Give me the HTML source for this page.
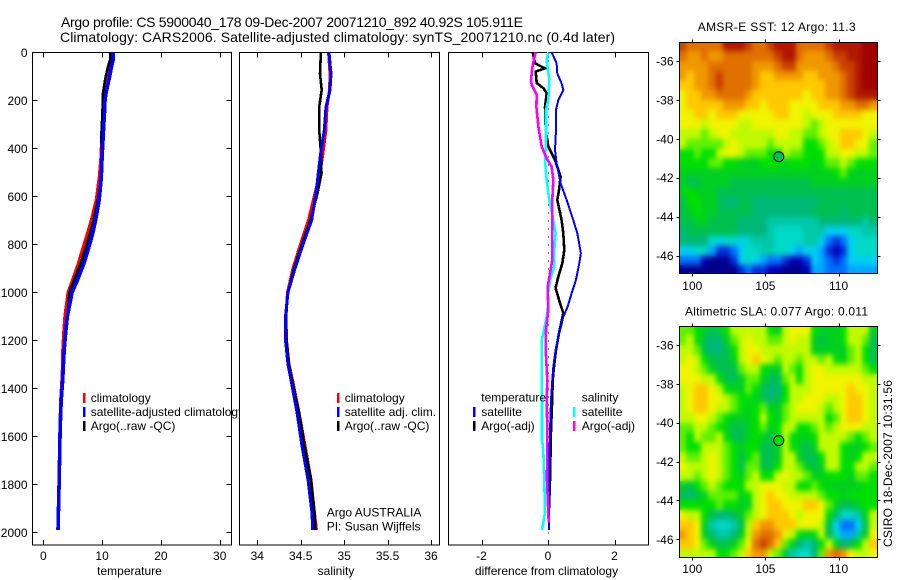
<!DOCTYPE html>
<html>
<head>
<meta charset="utf-8">
<title>Argo profile</title>
<style>
html,body{margin:0;padding:0;background:#fff;}
svg{display:block;}
text{font-family:"Liberation Sans",sans-serif;font-size:12px;fill:#000;}
.ttl{font-size:14px;}
</style>
</head>
<body>
<svg id="chart" xmlns="http://www.w3.org/2000/svg" width="900" height="580" viewBox="0 0 900 580">
  <defs>
    <filter id="soften" x="-5%" y="-5%" width="110%" height="110%" color-interpolation-filters="sRGB">
      <feGaussianBlur in="SourceGraphic" stdDeviation="2.3 2.9" result="soft"/>
      <feMerge><feMergeNode in="SourceGraphic"/><feMergeNode in="soft"/></feMerge>
    </filter>
  </defs>
  <rect x="0" y="0" width="900" height="580" fill="#fff"/>
  <text class="ttl" x="61" y="27" textLength="462" lengthAdjust="spacing">Argo profile: CS 5900040_178 09-Dec-2007 20071210_892 40.92S 105.911E</text>
  <text class="ttl" x="60" y="42" textLength="555" lengthAdjust="spacing">Climatology: CARS2006. Satellite-adjusted climatology: synTS_20071210.nc (0.4d later)</text>
  <g id="layer"></g>
  <text x="697.7" y="31" textLength="158" lengthAdjust="spacing">AMSR-E SST: 12 Argo: 11.3</text>
  <text x="685" y="315.5" textLength="183" lengthAdjust="spacing">Altimetric SLA: 0.077 Argo: 0.011</text>
  <text transform="translate(892,547) rotate(-90)" textLength="167" lengthAdjust="spacing">CSIRO 18-Dec-2007 10:31:56</text>
</svg>
<script>
// ---- profile data ----
const depthTicks = [0,200,400,600,800,1000,1200,1400,1600,1800,2000];
const tempTicks = [0,10,20,30];
const salTicks = [34,34.5,35,35.5,36];
const diffTicks = [-2,0,2];
const lonTicks = [100,105,110];
const latTicks = [-36,-38,-40,-42,-44,-46];

const tempDepths = [0,30,60,110,170,200,250,340,435,520,615,700,755,825,880,950,1000,1100,1170,1240,1310,1365,1450,1575,1780,1990];
const tempClim = [11.8,11.7,11.35,10.9,10.2,10.2,10.15,9.95,9.8,9.5,9.0,8.15,7.5,6.6,5.95,4.95,4.2,3.65,3.45,3.3,3.25,3.15,2.95,2.8,2.65,2.45];
const tempSat = [11.9,11.9,11.6,11.2,10.66,10.5,10.4,10.2,10,9.87,9.5,8.9,8.4,7.6,6.9,5.8,4.9,4.1,3.8,3.55,3.4,3.3,3.05,2.85,2.7,2.5];
const tempArgo = [11.35,11.4,11,10.55,10.15,10.1,10.07,9.88,9.95,9.88,9.28,8.56,7.96,7.1,6.38,5.26,4.45,4.1,3.78,3.54,3.43,3.29,3.08,2.89,2.71,2.48];

const salDepths = [0,90,157,227,324,420,504,587,699,800,900,1000,1100,1200,1300,1365,1500,1640,1780,1920,1990];
const salClim = [34.82,34.837,34.831,34.802,34.79,34.756,34.722,34.664,34.59,34.497,34.411,34.348,34.33,34.336,34.365,34.405,34.48,34.55,34.618,34.659,34.682];
const salSat = [34.826,34.849,34.837,34.791,34.771,34.73,34.702,34.676,34.626,34.526,34.434,34.354,34.325,34.325,34.354,34.388,34.457,34.515,34.584,34.63,34.638];
const salArgo = [34.732,34.722,34.741,34.713,34.713,34.733,34.739,34.693,34.613,34.515,34.423,34.354,34.33,34.336,34.365,34.4,34.48,34.543,34.618,34.659,34.67];

const diffTempSatDepths = [0,46,88,129,157,199,240,324,407,462,546,615,699,754,837,879,949,1004,1060,1102,1171,1240,1310,1365,1450,1574,1782,1990];
const diffTempSat = [0.11,0.26,0.28,0.41,0.46,0.31,0.24,0.24,0.21,0.26,0.38,0.56,0.76,0.88,0.99,0.94,0.84,0.71,0.59,0.46,0.34,0.23,0.16,0.13,0.09,0.06,0.03,0.03];
const diffTempArgoDepths = [0,46,67,80,128,149,171,227,324,393,449,518,574,615,699,754,824,879,935,982,1045,1087,1171,1240,1310,1365,1435,1574,1782,1900];
const diffTempArgo = [-0.46,-0.39,-0.09,-0.37,-0.34,-0.14,-0.04,-0.09,-0.07,0.01,0.21,0.38,0.33,0.28,0.41,0.46,0.49,0.43,0.31,0.23,0.36,0.46,0.33,0.24,0.18,0.14,0.13,0.09,0.06,0.03];
const diffSalSatDepths = [0,32,115,199,240,365,449,532,615,699,754,824,893,949,1004,1087,1157,1199,1351,1450,1616,1657,1782,1920,1990];
const diffSalSat = [0.01,-0.04,0.04,0.01,-0.06,-0.06,-0.09,-0.04,0.04,0.16,0.23,0.19,0.19,0.06,0.01,-0.02,-0.12,-0.19,-0.19,-0.18,-0.18,-0.14,-0.11,-0.09,-0.18];
const diffSalArgoDepths = [0,53,115,136,178,227,310,393,442,477,532,615,670,754,865,921,977,1074,1157,1240,1365,1448,1574,1782,1960];
const diffSalArgo = [-0.37,-0.46,-0.51,-0.49,-0.34,-0.35,-0.29,-0.19,-0.04,0.11,0.16,0.13,0.13,0.13,0.13,0.06,-0.01,0.01,-0.06,-0.07,-0.02,-0.04,-0.02,-0.03,0.02];

// ---- map data (colour-level index per half-degree cell, north to south) ----
const sstLevels = [
[18,17,17,17,17,17,19,19,19,18,17,17,18,19,19,19,17,17,17,17,18,19,19,19,19,20,20],
[17,16,16,17,16,16,17,17,17,17,17,17,17,18,19,19,17,16,16,16,17,18,18,19,19,20,20],
[16,16,16,16,17,17,17,17,17,17,16,16,16,17,18,18,16,16,16,16,16,17,18,18,19,20,20],
[16,15,16,16,17,18,17,17,17,17,16,15,15,16,16,16,16,15,15,16,16,16,17,18,19,20,20],
[15,15,16,16,17,18,17,17,17,17,16,15,15,15,15,15,15,15,15,15,16,16,17,18,19,20,20],
[14,15,15,16,16,17,17,17,17,16,15,15,15,15,15,15,15,14,15,15,16,16,17,18,19,19,19],
[14,15,15,15,15,15,16,16,16,15,15,14,15,15,15,14,14,14,14,15,15,15,16,16,17,17,16],
[14,14,15,15,14,15,15,15,14,14,14,14,14,15,15,14,14,13,14,14,14,15,15,15,15,14,14],
[14,14,14,13,14,14,14,14,13,13,14,14,14,14,14,14,14,13,12,13,14,14,14,14,14,14,14],
[13,13,13,12,13,14,14,13,13,13,13,13,13,14,14,13,13,12,12,13,14,14,15,15,15,14,13],
[13,12,12,12,12,12,13,14,13,13,13,13,12,13,13,13,13,11,11,12,13,14,15,15,14,14,12],
[11,11,12,11,11,13,14,14,13,12,12,12,11,11,13,12,12,11,11,11,13,13,14,14,13,13,12],
[11,11,11,11,12,12,11,11,10,10,10,11,11,11,10,11,11,11,10,11,12,12,13,12,11,11,11],
[10,10,10,10,10,10,10,10,10,10,10,10,10,10,10,10,10,10,10,10,10,11,12,10,10,10,10],
[10,9,9,10,10,10,10,9,9,9,9,9,9,9,9,9,9,9,10,10,10,10,10,10,10,10,10],
[10,11,10,10,10,9,9,9,9,9,9,9,9,9,9,9,9,9,9,9,9,9,9,9,9,9,9],
[9,11,11,10,10,9,8,8,9,9,8,8,8,8,8,8,8,8,8,9,9,9,9,9,9,9,9],
[9,10,11,10,10,9,9,9,9,9,8,8,8,8,8,8,8,8,9,9,9,9,8,9,9,9,9],
[9,9,10,10,9,9,9,9,8,8,8,8,7,7,7,7,7,7,7,8,8,8,8,8,8,7,8],
[8,9,9,9,9,9,9,9,8,8,8,8,7,6,6,6,6,7,7,7,5,5,5,6,6,7,7],
[8,8,8,8,6,5,6,6,5,6,7,7,7,6,6,6,6,7,7,5,3,2,3,5,6,6,6],
[5,5,6,6,4,2,2,3,5,6,6,7,7,6,6,5,4,5,5,4,2,1,2,5,6,6,6],
[3,3,3,1,0,0,0,2,5,6,5,4,3,3,2,1,1,2,5,4,3,2,3,5,5,5,5],
[0,0,0,0,0,0,0,0,2,3,2,2,1,1,0,0,0,1,4,4,3,3,3,4,4,4,4]
];
const slaLevels = [
[12,12,11,10,9,10,11,13,13,13,13,13,11,10,13,14,14,14,11,10,10,10,11,13,13,13,10],
[12,13,11,9,8,8,10,12,13,14,13,13,12,12,13,14,13,13,10,9,10,10,11,13,13,12,9],
[13,13,12,9,8,8,9,11,13,14,14,13,13,13,13,13,13,13,10,10,10,10,10,12,13,11,9],
[13,14,13,11,9,9,9,10,13,14,15,14,13,12,13,13,12,13,13,12,13,11,10,12,13,11,9],
[14,14,13,12,10,9,9,9,12,13,13,11,10,10,13,12,11,13,14,14,13,13,13,13,13,12,11],
[14,14,14,13,13,11,9,9,10,12,12,10,9,9,12,13,11,13,14,14,14,14,14,14,14,13,13],
[13,14,15,15,14,13,11,10,10,12,11,9,8,8,11,13,13,13,14,14,14,14,14,15,14,14,13],
[13,14,15,15,14,14,13,12,11,11,10,9,8,9,11,13,13,14,14,14,13,13,14,15,15,14,13],
[13,14,15,15,14,13,13,12,11,10,11,12,10,10,12,13,14,14,14,13,12,13,14,15,15,14,13],
[13,13,14,14,13,12,11,10,10,10,11,13,11,10,12,13,13,13,13,13,11,12,14,15,15,14,13],
[12,12,13,13,12,11,10,9,9,10,11,12,10,11,13,13,11,11,12,13,12,13,14,14,14,13,13],
[12,11,13,12,12,13,11,9,9,10,11,10,9,10,13,11,10,10,11,13,13,13,13,12,11,12,13],
[12,11,11,13,13,13,12,11,10,11,11,9,9,10,13,11,10,9,10,13,13,13,11,10,10,11,12],
[13,12,12,13,14,13,12,11,9,11,12,9,9,10,13,13,10,9,9,11,13,13,11,10,11,13,13],
[14,13,13,13,14,13,12,11,9,12,12,9,9,11,13,13,12,10,9,10,13,13,11,11,13,13,12],
[13,13,12,13,14,13,12,11,10,12,13,11,11,13,14,13,13,12,10,10,11,11,11,10,12,12,11],
[10,9,11,12,13,12,11,11,11,13,13,14,14,14,13,13,11,11,12,11,10,10,10,10,10,11,11],
[9,8,9,10,12,12,12,12,10,11,13,14,15,14,14,13,13,13,13,12,11,11,10,11,11,11,11],
[11,11,11,11,11,12,11,11,10,10,13,14,15,15,14,14,14,15,15,14,12,10,9,9,10,11,11],
[14,13,13,11,9,8,8,9,10,12,13,14,15,15,15,14,13,14,14,14,11,8,6,6,7,10,13],
[15,15,14,10,7,6,6,7,9,13,15,16,16,15,15,15,14,14,14,13,9,5,3,3,5,9,13],
[16,15,14,10,8,7,7,8,10,13,16,17,17,16,14,13,11,10,11,13,9,6,4,4,7,10,14],
[15,15,14,12,10,9,9,10,12,14,17,18,17,15,12,10,8,7,8,11,13,10,8,9,11,13,15],
[13,13,13,13,13,11,11,12,13,15,16,16,13,12,9,7,6,6,8,12,16,17,16,14,13,13,14]
];
const floatLon = [105.911];
const floatLat = [-40.92];
const sstFloatLevel = [9];
const slaFloatLevel = [11];

// ---- styling and scales ----
const palette = ['#00008c','#0000b4','#0030dc','#0070ff','#00a8ff','#00d0f0','#00d8c8','#00c8a8','#00b878','#00c050','#00d020','#00e000','#60f000','#c0fa00','#f0f400','#ffc800','#f09800','#e07000','#c84000','#b01800','#a00000'];
const NS = 'http://www.w3.org/2000/svg';
const layer = document.getElementById('layer');
const defsEl = document.querySelector('defs');
function make(tag, attrs, parent){
  const el = document.createElementNS(NS, tag);
  for (const k in attrs) el.setAttribute(k, attrs[k]);
  (parent || layer).appendChild(el);
  return el;
}
const yDepth = d => 52.3 + d * 0.24;
const xTemp = v => 43.3 + v * 5.88;
const xSal = v => 257.3 + (v - 34) * 86.85;
const xDiff = v => 548 + v * 33.25;
const xLon = v => 692.3 + (v - 100) * 14.63;
const ySst = v => 61 + (-36 - v) * 19.45;
const ySla = v => 345 + (-36 - v) * 19.43;

function panel(name, left, right, xs, ticks, label, labelX){
  const box = make('rect', {x:left, y:52.5, width:right-left, height:492.5, fill:'#fff', stroke:'#000', 'stroke-width':1, 'shape-rendering':'crispEdges'});
  
  
  ticks.forEach(t => {
    const x = Math.round(xs(t)) + 0.5;
    const top = make('line', {x1:x, x2:x, y1:52.5, y2:57.5, stroke:'#000', 'shape-rendering':'crispEdges'});
    
    
    const bot = make('line', {x1:x, x2:x, y1:540, y2:545, stroke:'#000', 'shape-rendering':'crispEdges'});
    
    
    const txt = make('text', {x:xs(t), y:560, 'text-anchor':'middle'});
    
    
    txt.textContent = String(t);
  });
  const lab = make('text', {x:labelX, y:575, 'text-anchor':'middle'});
  
  
  lab.textContent = label;
}
function series(name, depths, values, xs, color, width){
  const pts = depths.map((d,i) => xs(values[i]).toFixed(1) + ',' + yDepth(d).toFixed(1)).join(' ');
  const line = make('polyline', {points:pts, fill:'none', stroke:color, 'stroke-width':width, 'shape-rendering':'crispEdges', 'stroke-linejoin':'miter'});
  
  
}
function legend(name, swatchX, textX, y, color, label){
  const s = make('rect', {x:swatchX, y:y-9, width:2.5, height:10, fill:color, 'shape-rendering':'crispEdges'});
  
  
  const t = make('text', {x:textX, y:y});
  
  
  t.textContent = label;
}
function plainText(name, x, y, label){
  const t = make('text', {x:x, y:y});
  
  
  t.textContent = label;
}

// ---- temperature panel ----
panel('temperature-panel', 32.5, 231.5, xTemp, tempTicks, 'temperature', 129.5);
depthTicks.forEach(d => {
  const y = Math.round(yDepth(d)) + 0.5;
  if (d > 0) {
    const l = make('line', {x1:32.5, x2:37.5, y1:y, y2:y, stroke:'#000', 'shape-rendering':'crispEdges'});
    
    
    const r = make('line', {x1:226.5, x2:231.5, y1:y, y2:y, stroke:'#000', 'shape-rendering':'crispEdges'});
    
    
  }
  const t = make('text', {x:27.5, y:yDepth(d)+4.5, 'text-anchor':'end'});
  
  
  t.textContent = String(d);
});
series('temperature-climatology-line', tempDepths, tempClim, xTemp, '#ff0000', 3);
series('temperature-argo-line', tempDepths, tempArgo, xTemp, '#000000', 2.6);
series('temperature-satellite-line', tempDepths, tempSat, xTemp, '#0000ff', 3.6);
legend('temperature-legend-climatology', 83, 90.7, 402, '#ff0000', 'climatology');
legend('temperature-legend-satellite', 83, 90.7, 416, '#0000ff', 'satellite-adjusted climatology');
legend('temperature-legend-argo', 83, 90.7, 430, '#000000', 'Argo(..raw -QC)');

// ---- salinity panel (its white box clips the long legend entry above) ----
panel('salinity-panel', 239.5, 439.5, xSal, salTicks, 'salinity', 336);
series('salinity-climatology-line', salDepths, salClim, xSal, '#ff0000', 3);
series('salinity-argo-line', salDepths, salArgo, xSal, '#000000', 2.6);
series('salinity-satellite-line', salDepths, salSat, xSal, '#0000ff', 3);
legend('salinity-legend-climatology', 337, 344.7, 402, '#ff0000', 'climatology');
legend('salinity-legend-satellite', 337, 344.7, 416, '#0000ff', 'satellite adj. clim.');
legend('salinity-legend-argo', 337, 344.7, 430, '#000000', 'Argo(..raw -QC)');
plainText('argo-australia-note', 326.7, 516.7, 'Argo AUSTRALIA');
plainText('principal-investigator-note', 326.7, 530.7, 'PI: Susan Wijffels');

// ---- difference panel ----
panel('difference-panel', 448.5, 648.5, xDiff, diffTicks, 'difference from climatology', 546.5);
const zeroLine = make('line', {x1:548.5, x2:548.5, y1:yDepth(0), y2:538, stroke:'#000', 'stroke-width':1, 'stroke-dasharray':'1 7', 'shape-rendering':'crispEdges'});


series('difference-temperature-argo-line', diffTempArgoDepths, diffTempArgo, xDiff, '#000000', 2.6);
series('difference-temperature-satellite-line', diffTempSatDepths, diffTempSat, xDiff, '#0000ff', 2);
series('difference-salinity-satellite-line', diffSalSatDepths, diffSalSat, xDiff, '#00ffff', 2.6);
series('difference-salinity-argo-line', diffSalArgoDepths, diffSalArgo, xDiff, '#ff00ff', 2.6);
plainText('difference-legend-temperature-heading', 481.3, 401.7, 'temperature');
legend('difference-legend-temperature-satellite', 473, 481.3, 416, '#0000ff', 'satellite');
legend('difference-legend-temperature-argo', 473, 481.3, 430, '#000000', 'Argo(-adj)');
plainText('difference-legend-salinity-heading', 581.7, 401.7, 'salinity');
legend('difference-legend-salinity-satellite', 573, 581.7, 416, '#00ffff', 'satellite');
legend('difference-legend-salinity-argo', 573, 581.7, 430, '#ff00ff', 'Argo(-adj)');

// ---- maps ----
function drawMap(name, levels, yLat, markerLevel, labelY){
  const west = 99.1, step = 0.5;
  const boxTop = Math.round(yLat(-35)) + 0.5, boxBottom = Math.round(yLat(-46.9)) + 0.5;
  const clip = make('clipPath', {id:name + '-clip'}, defsEl);
  make('rect', {x:679.5, y:boxTop, width:198, height:boxBottom-boxTop}, clip);
  const clipGroup = make('g', {'clip-path':'url(#' + name + '-clip)'});
  
  
  const cells = make('g', {filter:'url(#soften)'}, clipGroup);
  
  
  levels.forEach((row, r) => {
    row.forEach((v, c) => {
      const x0 = Math.round(xLon(west + c*step));
      const x1 = Math.round(xLon(west + (c+1)*step));
      const y0 = Math.round(yLat(-35 - r*step));
      const y1 = Math.round(yLat(-35 - (r+1)*step));
      const cell = make('rect', {x:x0, y:y0, width:x1-x0, height:y1-y0, fill:palette[v], 'shape-rendering':'crispEdges'}, cells);
      
      
    });
  });
  const box = make('rect', {x:679.5, y:boxTop, width:198, height:boxBottom-boxTop, fill:'none', stroke:'#000', 'shape-rendering':'crispEdges'});
  
  
  lonTicks.forEach(l => {
    const x = Math.round(xLon(l)) + 0.5;
    const a = make('line', {x1:x, x2:x, y1:boxTop-3, y2:boxTop, stroke:'#000', 'shape-rendering':'crispEdges'});
    
    
    const b = make('line', {x1:x, x2:x, y1:boxBottom, y2:boxBottom+3, stroke:'#000', 'shape-rendering':'crispEdges'});
    
    
    const t = make('text', {x:xLon(l), y:labelY, 'text-anchor':'middle'});
    
    
    t.textContent = String(l);
  });
  latTicks.forEach(l => {
    const y = Math.round(yLat(l)) + 0.5;
    const a = make('line', {x1:676.5, x2:679.5, y1:y, y2:y, stroke:'#000', 'shape-rendering':'crispEdges'});
    
    
    const b = make('line', {x1:877.5, x2:880.5, y1:y, y2:y, stroke:'#000', 'shape-rendering':'crispEdges'});
    
    
    const t = make('text', {x:673.5, y:yLat(l)+4.5, 'text-anchor':'end'});
    
    
    t.textContent = String(l);
  });
  const m = make('circle', {cx:xLon(floatLon[0]), cy:yLat(floatLat[0]), r:5, fill:palette[markerLevel], stroke:'#000', 'stroke-width':1});
  
  
}
drawMap('sst-map', sstLevels, ySst, sstFloatLevel[0], 290);
drawMap('sla-map', slaLevels, ySla, slaFloatLevel[0], 573);
</script>
</body>
</html>
